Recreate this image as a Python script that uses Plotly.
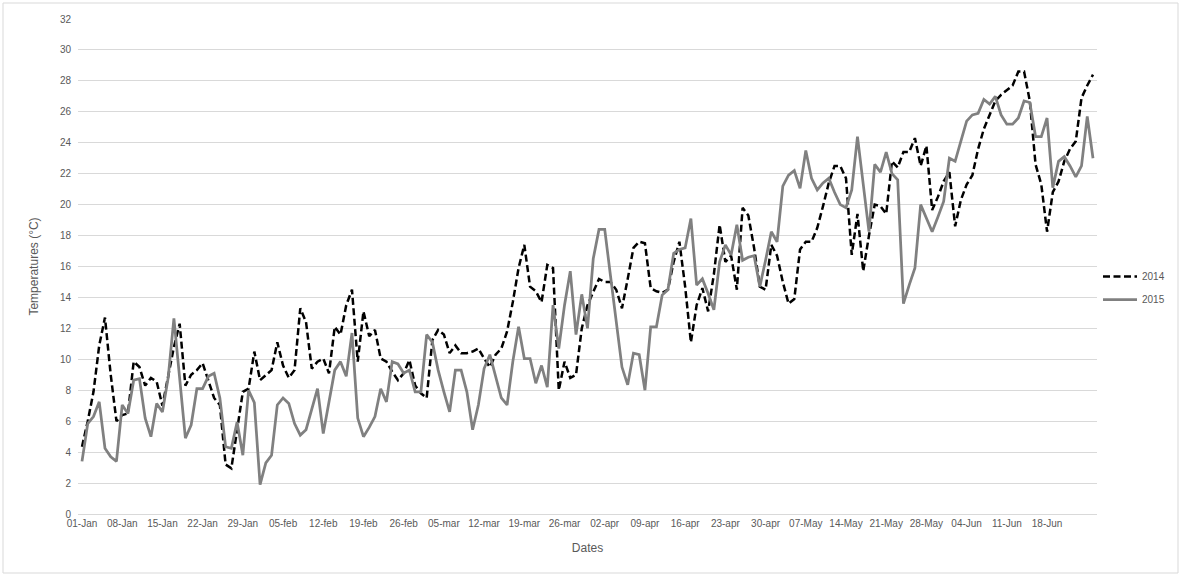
import pandas as pd
import plotly.graph_objects as go

# ---------------- data ----------------
start_date = "2015-01-01"

tick_labels = ["01-Jan", "08-Jan", "15-Jan", "22-Jan", "29-Jan", "05-feb", "12-feb",
               "19-feb", "26-feb", "05-mar", "12-mar", "19-mar", "26-mar", "02-apr",
               "09-apr", "16-apr", "23-apr", "30-apr", "07-May", "14-May", "21-May",
               "28-May", "04-Jun", "11-Jun", "18-Jun"]

y_ticks = list(range(0, 33, 2))

t2014 = [
    4.35, 6.0, 7.9, 10.9, 12.7, 9.0, 6.0, 6.4, 6.5, 9.85,
    9.5, 8.3, 8.8, 8.55, 7.0, 8.8, 10.8, 12.3, 8.3, 9.0,
    9.3, 9.75, 8.55, 7.5, 7.05, 3.2, 2.95, 5.3, 7.9, 8.1,
    10.5, 8.65, 9.0, 9.3, 11.1, 9.6, 8.8, 9.3, 13.3, 12.4,
    9.4, 9.85, 10.05, 9.1, 12.1, 11.6, 13.5, 14.5, 9.85, 13.1,
    11.5, 11.9, 10.05, 9.85, 9.2, 8.65, 9.1, 9.95, 8.3, 7.8,
    7.5, 11.25, 11.9, 11.6, 10.4, 10.9, 10.4, 10.4, 10.5, 10.7,
    10.05, 9.5, 10.3, 10.7, 11.8, 13.7, 15.9, 17.4, 14.7, 14.4,
    13.7, 16.1, 15.9, 8.0, 9.85, 8.8, 9.0, 12.0, 13.5, 14.3,
    15.2, 15.0, 15.0, 14.5, 13.3, 15.2, 17.2, 17.6, 17.5, 14.6,
    14.4, 14.3, 14.5, 16.3, 17.6, 14.7, 11.1, 13.5, 14.6, 13.1,
    15.5, 18.7, 16.3, 16.7, 14.5, 19.8, 19.3, 17.2, 14.7, 14.5,
    17.4, 16.7, 15.0, 13.6, 13.9, 17.1, 17.6, 17.6, 18.5, 19.9,
    21.4, 22.5, 22.5, 21.7, 16.75, 19.4, 15.7, 18.0, 20.0, 19.9,
    19.4, 22.8, 22.4, 23.4, 23.4, 24.3, 22.5, 23.8, 19.65, 20.5,
    21.5, 22.1, 18.6, 20.3, 21.3, 21.9, 23.6, 24.9, 25.8, 26.7,
    27.1, 27.4, 27.7, 28.6, 28.6, 26.7, 22.6, 21.3, 18.25, 20.8,
    21.5, 22.8, 23.6, 24.1, 26.9, 27.7, 28.4,
]

t2015 = [
    3.4, 5.85, 6.3, 7.25, 4.25, 3.7, 3.4, 7.05, 6.5, 8.65,
    8.75, 6.2, 5.0, 7.15, 6.6, 8.8, 12.65, 8.9, 4.9, 5.75,
    8.1, 8.1, 8.9, 9.1, 7.5, 4.35, 4.25, 5.95, 3.8, 8.0,
    7.2, 1.9, 3.3, 3.8, 7.05, 7.5, 7.15, 5.85, 5.1, 5.45,
    6.7, 8.1, 5.2, 7.3, 9.3, 9.85, 8.9, 11.7, 6.2, 5.0,
    5.6, 6.3, 8.1, 7.25, 9.85, 9.7, 9.1, 9.3, 7.9, 7.9,
    11.6, 11.1, 9.3, 7.9, 6.6, 9.3, 9.3, 7.9, 5.45, 7.05,
    9.4, 10.3, 8.8, 7.5, 7.05, 9.85, 12.1, 10.05, 10.05, 8.45,
    9.6, 8.2, 13.5, 10.7, 13.5, 15.7, 11.6, 14.2, 12.0, 16.5,
    18.4, 18.4, 15.4, 12.5, 9.5, 8.35, 10.4, 10.3, 8.0, 12.1,
    12.1, 14.15, 14.5, 16.85, 17.1, 17.2, 19.1, 14.8, 15.2, 14.25,
    13.2, 16.3, 17.4, 16.75, 18.7, 16.4, 16.6, 16.7, 14.7, 16.4,
    18.25, 17.6, 21.2, 21.9, 22.2, 21.05, 23.5, 21.7, 20.95, 21.4,
    21.7, 20.8, 20.0, 19.8, 20.95, 24.4, 21.2, 18.25, 22.6, 22.1,
    23.4, 22.0, 21.6, 13.6, 14.8, 15.9, 20.0, 19.1, 18.25, 19.2,
    20.2, 23.0, 22.8, 24.1, 25.4, 25.8, 25.9, 26.8, 26.5, 27.0,
    25.8, 25.2, 25.2, 25.6, 26.7, 26.6, 24.4, 24.4, 25.6, 21.1,
    22.8, 23.1, 22.5, 21.8, 22.5, 25.7, 23.0,
]

# ---------------- figure ----------------
dates = pd.date_range(start_date, periods=len(t2014), freq="D")
tick_dates = list(dates[::7][:len(tick_labels)])

W, H = 1182, 576
L, R, T, B = 78, 85, 19, 62
PW, PH = W - L - R, H - T - B

TEXT = "#595959"
GRID = "#d9d9d9"
FONT = "Liberation Sans, Arial, sans-serif"

fig = go.Figure()
fig.add_trace(go.Scatter(
    x=dates, y=t2014, name="2014", mode="lines", legendgroup="a",
    line=dict(color="#000000", width=2.5, dash="7px,3.5px"),
))
fig.add_trace(go.Scatter(
    x=dates, y=t2015, name="2015", mode="lines", legendgroup="b",
    line=dict(color="#808080", width=2.75),
))

fig.update_layout(
    width=W, height=H,
    margin=dict(l=L, r=R, t=T, b=B, autoexpand=False),
    paper_bgcolor="white", plot_bgcolor="white",
    font=dict(family=FONT, size=10, color=TEXT),
    showlegend=True,
    legend=dict(
        x=(1098 - L) / PW, xanchor="left",
        y=(H - B - 288) / PH, yanchor="middle",
        bgcolor="rgba(0,0,0,0)", borderwidth=0,
        font=dict(family=FONT, size=10, color=TEXT),
        traceorder="grouped", tracegroupgap=4, itemwidth=34,
    ),
    shapes=[dict(
        type="rect", xref="paper", yref="paper",
        x0=(3 - L) / PW, x1=(1178 - L) / PW,
        y0=(H - B - 573) / PH, y1=(H - B - 3) / PH,
        line=dict(color=GRID, width=1), fillcolor="rgba(0,0,0,0)", layer="below",
    )],
)

fig.update_xaxes(
    type="date",
    range=["2014-12-31 07:18", "2015-06-26 16:42"],
    tickmode="array", tickvals=tick_dates, ticktext=tick_labels, tickangle=0,
    showgrid=False, zeroline=False,
    showline=True, linecolor=GRID, linewidth=1, ticks="",
    tickfont=dict(family=FONT, size=10, color=TEXT),
    title=dict(text="Dates", standoff=15, font=dict(family=FONT, size=12, color=TEXT)),
    automargin=False,
)
fig.update_yaxes(
    range=[0, 32], tickmode="array", tickvals=y_ticks,
    showgrid=True, gridcolor=GRID, gridwidth=1,
    zeroline=False, showline=False, ticks="",
    ticklabelstandoff=6,
    tickfont=dict(family=FONT, size=10, color=TEXT),
    title=dict(text="Temperatures (°C)", standoff=18, font=dict(family=FONT, size=12, color=TEXT)),
    automargin=False,
)

fig.write_html("out.html", config={"displayModeBar": False})
